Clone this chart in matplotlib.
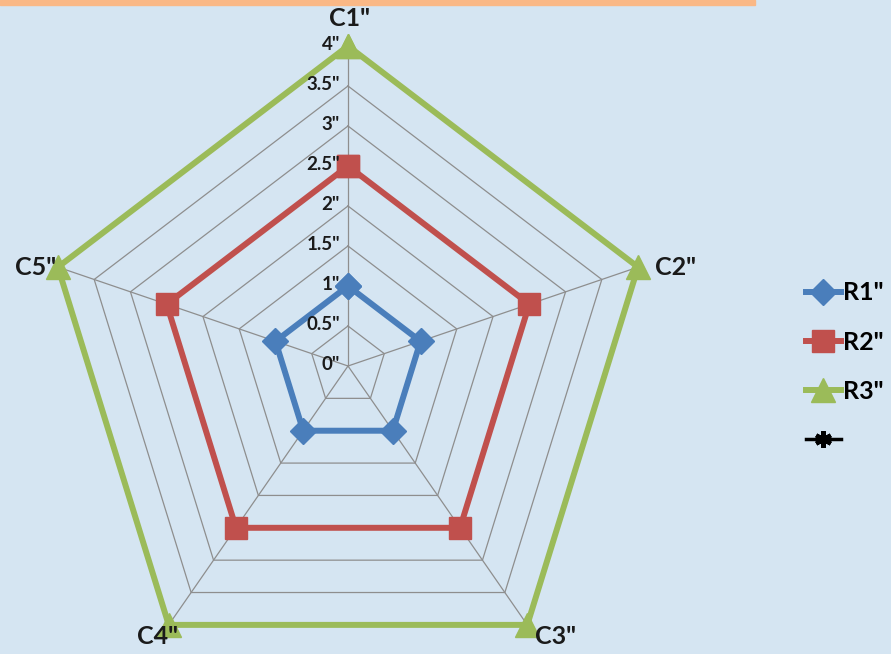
import numpy as np
import matplotlib
matplotlib.use("Agg")
import matplotlib.pyplot as plt
from matplotlib.lines import Line2D

categories = ['C1"', 'C2"', 'C3"', 'C4"', 'C5"']
series_names = ['R1"', 'R2"', 'R3"']
r1 = [1, 1, 1, 1, 1]
r2 = [2.5, 2.5, 2.5, 2.5, 2.5]
r3 = [4, 4, 4, 4, 4]
ring_values = [0, 0.5, 1, 1.5, 2, 2.5, 3, 3.5, 4]
ring_labels = ['0"', '0.5"', '1"', '1.5"', '2"', '2.5"', '3"', '3.5"', '4"']

colors = ['#4A7EBB', '#C0504D', '#9BBB59']
markers = ['D', 's', '^']
msizes = [13, 16, 17]

plt.rcParams['font.family'] = ['Lato', 'DejaVu Sans']

fig = plt.figure(figsize=(8.91, 6.54), dpi=100)
fig.patch.set_facecolor('#D5E5F2')

# orange band along the top edge
fig.add_artist(plt.Rectangle((0, 1 - 5 / 654), 755 / 891, 5 / 654,
                             transform=fig.transFigure, color='#FAB886', zorder=0))

cx, cy = 348 / 891, 1 - 366 / 654
rx, ry = 305, 320
ax = fig.add_axes([cx - rx / 891, cy - ry / 654, 2 * rx / 891, 2 * ry / 654],
                  projection='polar')
ax.set_aspect('auto')
ax.set_theta_offset(np.pi / 2)
ax.set_theta_direction(-1)
ax.set_facecolor('none')
ax.spines['polar'].set_visible(False)
ax.grid(False)
ax.set_xticks([])
ax.set_yticks([])
ax.set_ylim(0, 4)

n = len(categories)
angles = np.arange(n) * 2 * np.pi / n
closed = np.append(angles, angles[0])

# polygon grid rings and spokes
for v in ring_values[1:]:
    ax.plot(closed, [v] * (n + 1), color='#8E8E8E', lw=0.9, zorder=1, clip_on=False)
for a in angles:
    ax.plot([a, a], [0, ring_values[-1]], color='#8E8E8E', lw=0.9, zorder=1, clip_on=False)

# ring value labels along the first spoke
for v, lab in zip(ring_values, ring_labels):
    ax.annotate(lab, xy=(0, v), xytext=(-8, 1), textcoords='offset pixels',
                ha='right', va='center', fontsize=13.5, fontweight='bold',
                color='#1A1A1A', annotation_clip=False, zorder=5)

# category labels
offsets = [(1, 28, 'center'), (17, 0, 'left'), (8, -12, 'left'),
           (9, -12, 'right'), (-2, 0, 'right')]
for a, lab, (dx, dy, ha) in zip(angles, categories, offsets):
    ax.annotate(lab, xy=(a, r3[0]), xytext=(dx, dy), textcoords='offset pixels',
                ha=ha, va='center', fontsize=18, fontweight='bold', color='#1A1A1A',
                annotation_clip=False, zorder=5)

handles = []
for vals, name, c, m, ms in zip([r1, r2, r3], series_names, colors, markers, msizes):
    vv = np.append(vals, vals[0])
    ln, = ax.plot(closed, vv, color=c, lw=4.3, marker=m, markersize=ms,
                  markerfacecolor=c, markeredgecolor=c, zorder=3, clip_on=False,
                  label=name)
    handles.append(ln)

handles.append(Line2D([], [], color='black', lw=2.5, marker=(6, 2, 0),
                      markersize=12, markeredgewidth=3, markeredgecolor='black'))
labels = series_names + ['']

fig.legend(handles, labels, loc='upper left', bbox_to_anchor=(0.893, 0.585),
           frameon=False, prop={'weight': 'bold', 'size': 18},
           labelspacing=1.05, handlelength=1.4, handletextpad=0.1,
           borderaxespad=0)

fig.savefig('out.png', dpi=100, facecolor=fig.get_facecolor())
